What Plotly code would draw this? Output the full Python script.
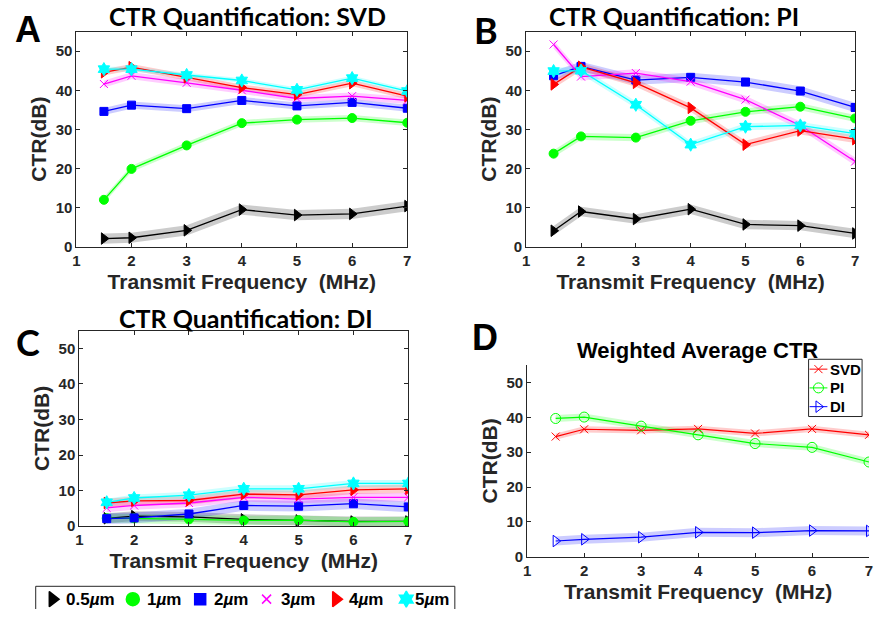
import plotly.graph_objects as go

# Transmit frequencies (MHz) shared by every panel
freq = [1.5, 2, 3, 4, 5, 6, 7]

# Microbubble sizes and their plot styles
size_names = ["0.5<i>µ</i>m", "1<i>µ</i>m", "2<i>µ</i>m", "3<i>µ</i>m", "4<i>µ</i>m", "5<i>µ</i>m"]
size_colors = ["#000000", "#00ff00", "#0000ff", "#ff00ff", "#ff0000", "#00ffff"]
size_symbols = ["triangle-right", "circle", "square", "x-thin", "triangle-right", "hexagram"]
size_marker_px = [10, 9, 8, 8, 10, 10]

# CTR (dB) per size, rows ordered as size_names
svd_ctr = [
    [2.1, 2.3, 4.2, 9.5, 8.1, 8.4, 10.4],
    [12.0, 19.9, 25.9, 31.6, 32.5, 32.9, 31.7],
    [34.6, 36.2, 35.3, 37.4, 36.0, 36.9, 35.4],
    [41.6, 43.7, 41.9, 40.0, 37.9, 38.5, 37.4],
    [44.6, 45.9, 43.3, 40.7, 38.9, 41.8, 38.5],
    [45.4, 45.4, 43.9, 42.5, 40.1, 43.1, 39.8],
]
pi_ctr = [
    [4.1, 9.0, 7.1, 9.6, 5.7, 5.4, 3.4],
    [23.8, 28.2, 27.9, 32.2, 34.5, 35.8, 32.8],
    [43.7, 46.1, 42.6, 43.3, 42.1, 39.8, 35.6],
    [51.7, 43.5, 44.4, 42.2, 37.6, 31.0, 21.8],
    [41.5, 46.0, 41.9, 35.5, 26.1, 29.7, 27.5],
    [44.9, 45.0, 36.3, 26.1, 30.7, 31.0, 28.9],
]
di_ctr = [
    [2.2, 2.8, 2.6, 1.9, 1.6, 1.3, 1.3],
    [2.2, 2.2, 1.9, 1.6, 1.7, 1.2, 1.3],
    [2.1, 2.3, 3.4, 5.8, 5.6, 6.3, 5.4],
    [5.1, 5.8, 6.5, 8.1, 7.6, 8.1, 8.1],
    [6.5, 7.1, 7.2, 9.0, 8.8, 10.2, 10.5],
    [6.7, 7.9, 8.7, 10.5, 10.5, 12.0, 12.0],
]

# Half-width of the shaded spread (dB) per size
svd_spread = [1.3, 0.8, 0.9, 0.9, 0.8, 0.6]
pi_spread = [1.2, 0.9, 1.2, 1.0, 1.0, 0.9]
di_spread = [1.4, 1.3, 1.5, 1.2, 1.2, 1.0]

# Weighted average CTR (dB) per imaging method
method_names = ["SVD", "PI", "DI"]
method_colors = ["#ff0000", "#00ff00", "#0000ff"]
method_symbols = ["x-thin-open", "circle-open", "triangle-right-open"]
method_marker_px = [8, 10, 10]
weighted_svd = [34.5, 36.6, 36.3, 36.7, 35.4, 36.7, 35.0]
weighted_pi = [39.7, 40.1, 37.5, 35.0, 32.5, 31.4, 27.2]
weighted_di = [4.5, 5.0, 5.6, 7.0, 6.9, 7.5, 7.4]
weighted_ctr = [weighted_svd, weighted_pi, weighted_di]
weighted_spread = [0.9, 1.0, 1.3]

W, H = 875, 617
AX_COLOR = "#262626"
CLEAR = "rgba(0,0,0,0)"
TICK_FONT = dict(family="Liberation Sans", size=15, color=AX_COLOR, weight="bold")
TITLE_FONT = dict(family="Liberation Sans", size=21, color=AX_COLOR, weight="bold")


def rgba(hex_color, alpha):
    h = hex_color.lstrip("#")
    r, g, b = int(h[0:2], 16), int(h[2:4], 16), int(h[4:6], 16)
    return f"rgba({r},{g},{b},{alpha})"


def band_trace(x, y, half, color, xa, ya):
    upper = [v + half for v in y]
    lower = [v - half for v in y]
    return go.Scatter(
        x=list(x) + list(x)[::-1], y=upper + lower[::-1],
        fill="toself", fillcolor=rgba(color, 0.2), line=dict(width=0),
        mode="lines", hoverinfo="skip", showlegend=False, xaxis=xa, yaxis=ya,
    )


fig = go.Figure()

panels = [("x", "y", svd_ctr, svd_spread),
          ("x2", "y2", pi_ctr, pi_spread),
          ("x3", "y3", di_ctr, di_spread)]

for xa, ya, data, spread in panels:
    for vals, half, col in zip(data, spread, size_colors):
        fig.add_trace(band_trace(freq, vals, half, col, xa, ya))
    for vals, col, sym, ms in zip(data, size_colors, size_symbols, size_marker_px):
        fig.add_trace(go.Scatter(
            x=freq, y=vals, mode="lines+markers", xaxis=xa, yaxis=ya,
            line=dict(color=col, width=1.3),
            marker=dict(symbol=sym, size=ms, color=col, line=dict(color=col, width=1)),
            showlegend=False,
        ))

# Panel D: weighted averages
for vals, half, col in zip(weighted_ctr, weighted_spread, method_colors):
    fig.add_trace(band_trace(freq, vals, half, col, "x4", "y4"))
for name, vals, col, sym, ms in zip(method_names, weighted_ctr, method_colors,
                                    method_symbols, method_marker_px):
    fig.add_trace(go.Scatter(
        x=freq, y=vals, mode="lines+markers", name=name, xaxis="x4", yaxis="y4",
        line=dict(color=col, width=1.2),
        marker=dict(symbol=sym, size=ms, color=col, line=dict(color=col, width=1)),
        showlegend=False,
    ))

# Legend boxes are drawn on a full-page overlay axis measured in pixels
# (x to the right, y downward from the top edge).
OV_X, OV_Y = "x5", "y5"
shapes = []
annotations = []

# Bottom key for the bubble sizes: symbol, then label
size_key_x = [49, 130, 198, 265, 335, 406]
size_label_x = [61, 142, 210, 278, 346, 413]
size_key_y = 607
size_key_px = [13, 13, 11, 9, 13, 12]
shapes.append(dict(type="rect", xref=OV_X, yref=OV_Y, x0=32, x1=455, y0=594, y1=640,
                   line=dict(color=AX_COLOR, width=1), fillcolor=CLEAR, layer="above"))
for kx, col, sym, ms in zip(size_key_x, size_colors, size_symbols, size_key_px):
    fig.add_trace(go.Scatter(
        x=[kx], y=[size_key_y], mode="markers", xaxis=OV_X, yaxis=OV_Y,
        marker=dict(symbol=sym, size=ms, color=col, line=dict(color=col, width=1.5)),
        showlegend=False, hoverinfo="skip", cliponaxis=False,
    ))
for lx, name in zip(size_label_x, size_names):
    annotations.append(dict(
        text=name, x=lx, y=size_key_y, xref=OV_X, yref=OV_Y,
        xanchor="left", yanchor="middle", showarrow=False,
        font=dict(family="Liberation Sans", size=17, color="black", weight="bold"),
    ))

# Key for panel D: short line with the method marker, then label
method_key_x0, method_key_x1 = 813, 831
method_key_y = [374, 393, 412]
shapes.append(dict(type="rect", xref=OV_X, yref=OV_Y, x0=812, x1=866, y0=364, y1=422,
                   line=dict(color=AX_COLOR, width=1), fillcolor=CLEAR, layer="above"))
for ky, col, sym, ms in zip(method_key_y, method_colors, method_symbols, method_marker_px):
    fig.add_trace(go.Scatter(
        x=[method_key_x0, method_key_x1], y=[ky, ky], mode="lines", xaxis=OV_X, yaxis=OV_Y,
        line=dict(color=col, width=1), showlegend=False, hoverinfo="skip", cliponaxis=False,
    ))
    fig.add_trace(go.Scatter(
        x=[(method_key_x0 + method_key_x1) / 2], y=[ky], mode="markers",
        xaxis=OV_X, yaxis=OV_Y, showlegend=False, hoverinfo="skip", cliponaxis=False,
        marker=dict(symbol=sym, size=ms, color=col, line=dict(color=col, width=1)),
    ))
for ky, name in zip(method_key_y, method_names):
    annotations.append(dict(
        text=name, x=832, y=ky, xref=OV_X, yref=OV_Y,
        xanchor="left", yanchor="middle", showarrow=False,
        font=dict(family="Liberation Sans", size=15, color="black", weight="bold"),
    ))


def px_x(p):
    return p / W


def px_y(p):
    return 1 - p / H


# panel key: (x span px, y span px)
domains = {
    "": ([73, 407], [250, 32]),
    "2": ([527, 859], [250, 32]),
    "3": ([76, 408], [533, 335]),
    "4": ([528, 873], [564, 370]),
}

layout_axes = {}
for k, (xs, ys) in domains.items():
    boxed = k != "4"
    mirror = "ticks" if boxed else False
    layout_axes[f"xaxis{k}"] = dict(
        domain=[px_x(xs[0]), px_x(xs[1])], anchor=f"y{k}", range=[1, 7],
        tickvals=[1, 2, 3, 4, 5, 6, 7], ticks="inside", ticklen=4, tickcolor=AX_COLOR,
        showline=True, linecolor=AX_COLOR, linewidth=1, mirror=mirror,
        showgrid=False, zeroline=False, tickfont=TICK_FONT,
        title=dict(text="Transmit Frequency\u00a0\u00a0(MHz)", font=TITLE_FONT, standoff=6),
    )
    layout_axes[f"yaxis{k}"] = dict(
        domain=[px_y(ys[0]), px_y(ys[1])], anchor=f"x{k}", range=[0, 55],
        tickvals=[0, 10, 20, 30, 40, 50], ticks="inside", ticklen=4, tickcolor=AX_COLOR,
        showline=True, linecolor=AX_COLOR, linewidth=1, mirror=mirror,
        showgrid=False, zeroline=False, tickfont=TICK_FONT,
        title=dict(text="CTR(dB)", font=TITLE_FONT, standoff=3),
    )
layout_axes["xaxis5"] = dict(domain=[0, 1], range=[0, W], visible=False, anchor="y5",
                             fixedrange=True)
layout_axes["yaxis5"] = dict(domain=[0, 1], range=[H, 0], visible=False, anchor="x5",
                             fixedrange=True)

panel_titles = [
    ("CTR Quantification: SVD", 246, 16),
    ("CTR Quantification: PI", 676, 16),
    ("CTR Quantification: DI", 244, 322),
]
for text, cx, cy in panel_titles:
    annotations.append(dict(
        text=text, x=px_x(cx), y=px_y(cy), xref="paper", yref="paper",
        xanchor="center", yanchor="middle", showarrow=False,
        font=dict(family="Lato", size=25, color="black", weight="bold"),
    ))
annotations.append(dict(
    text="Weighted Average CTR", x=px_x(700), y=px_y(355), xref="paper", yref="paper",
    xanchor="center", yanchor="middle", showarrow=False,
    font=dict(family="Liberation Sans", size=22, color="black", weight="bold"),
))

panel_letters = [("A", 24, 30, "Liberation Sans"), ("B", 486, 30, "Lato"),
                 ("C", 24, 346, "Lato"), ("D", 485, 342, "Liberation Sans")]
for letter, cx, cy, fam in panel_letters:
    annotations.append(dict(
        text=letter, x=px_x(cx), y=px_y(cy), xref="paper", yref="paper",
        xanchor="center", yanchor="middle", showarrow=False,
        font=dict(family=fam, size=36, color="black", weight="bold"),
    ))

fig.update_layout(
    width=W, height=H,
    margin=dict(l=0, r=0, t=0, b=0),
    paper_bgcolor="white", plot_bgcolor=CLEAR,
    showlegend=False,
    annotations=annotations,
    shapes=shapes,
    **layout_axes,
)

fig.write_html("out.html")
